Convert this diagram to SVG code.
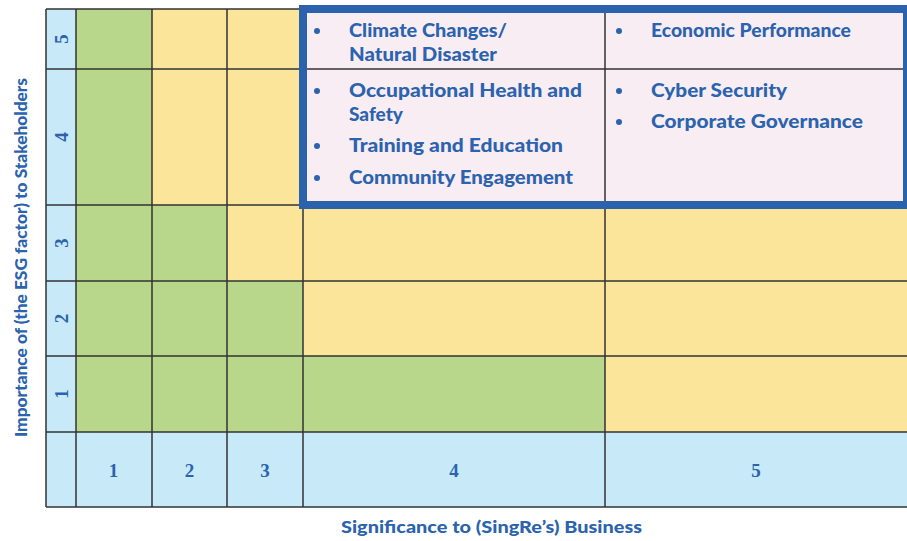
<svg xmlns="http://www.w3.org/2000/svg" width="907" height="541" viewBox="0 0 907 541">
  <style>
    .green { fill: #B9D78A; }
    .yellow { fill: #FAE59A; }
    .blue { fill: #C7E9F8; }
    .pink { fill: #F9EDF4; }
    .grid { stroke: #333333; stroke-width: 1.5; fill: none; }
    .item { font-family: "Lato", "Open Sans", "Liberation Sans", sans-serif; font-weight: 900; font-size: 19px; fill: #2B63AE; }
    .bullet { fill: #2B63AE; }
    .axis { font-family: "Lato", "Open Sans", "Liberation Sans", sans-serif; font-weight: 900; font-size: 17px; fill: #2B63AE; }
    .num { font-family: "Liberation Serif", serif; font-weight: bold; font-size: 19px; fill: #2B63AE; text-anchor: middle; }
    .frame { fill: none; stroke: #2A62AE; stroke-width: 8; }
  </style>

  <!-- cell fills -->
  <g id="cells">
    <rect class="blue" x="46" y="9" width="30" height="498"/>
    <rect class="blue" x="76" y="432" width="831" height="75"/>
    <rect class="green" x="76" y="9" width="76" height="423"/>
    <rect class="green" x="152" y="205" width="75" height="227"/>
    <rect class="green" x="227" y="281" width="76" height="151"/>
    <rect class="green" x="303" y="356" width="302" height="76"/>
    <rect class="yellow" x="152" y="9" width="151" height="196"/>
    <rect class="yellow" x="227" y="205" width="76" height="76"/>
    <rect class="yellow" x="303" y="205" width="604" height="151"/>
    <rect class="yellow" x="605" y="356" width="302" height="76"/>
    <rect class="pink" x="303" y="9" width="604" height="196"/>
  </g>

  <!-- grid lines -->
  <g id="gridlines" class="grid">
    <path d="M46 9V507 M76 9V507 M152 9V507 M227 9V507 M303 9V507 M605 9V507"/>
    <path d="M46 9H907 M46 69H907 M46 205H907 M46 281H907 M46 356H907 M46 432H907 M46 507H907"/>
  </g>

  <!-- highlighted material-topic frame -->
  <g id="material-frame">
    <rect class="frame" x="303" y="9" width="604" height="196"/>
  </g>

  <!-- material topics, top-right cells -->
  <g id="topics-4-5">
    <circle class="bullet" cx="317" cy="31" r="3"/>
    <text class="item" x="349" y="37" textLength="158" lengthAdjust="spacingAndGlyphs">Climate Changes/</text>
    <text class="item" x="349" y="61" textLength="148" lengthAdjust="spacingAndGlyphs">Natural Disaster</text>
  </g>
  <g id="topics-4-4">
    <circle class="bullet" cx="317" cy="91" r="3"/>
    <text class="item" x="349" y="97" textLength="233" lengthAdjust="spacingAndGlyphs">Occupational Health and</text>
    <text class="item" x="349" y="121" textLength="54" lengthAdjust="spacingAndGlyphs">Safety</text>
    <circle class="bullet" cx="317" cy="146" r="3"/>
    <text class="item" x="349" y="152" textLength="214" lengthAdjust="spacingAndGlyphs">Training and Education</text>
    <circle class="bullet" cx="317" cy="178" r="3"/>
    <text class="item" x="349" y="184" textLength="224" lengthAdjust="spacingAndGlyphs">Community Engagement</text>
  </g>
  <g id="topics-5-5">
    <circle class="bullet" cx="619" cy="31" r="3"/>
    <text class="item" x="651" y="37" textLength="200" lengthAdjust="spacingAndGlyphs">Economic Performance</text>
  </g>
  <g id="topics-5-4">
    <circle class="bullet" cx="619" cy="91" r="3"/>
    <text class="item" x="651" y="97" textLength="136" lengthAdjust="spacingAndGlyphs">Cyber Security</text>
    <circle class="bullet" cx="619" cy="122" r="3"/>
    <text class="item" x="651" y="128" textLength="212" lengthAdjust="spacingAndGlyphs">Corporate Governance</text>
  </g>

  <!-- x-axis scale -->
  <g id="x-scale">
    <text class="num" x="113.5" y="477">1</text>
    <text class="num" x="189.5" y="477">2</text>
    <text class="num" x="265" y="477">3</text>
    <text class="num" x="454" y="477">4</text>
    <text class="num" x="756" y="477">5</text>
  </g>

  <!-- y-axis scale -->
  <g id="y-scale">
    <text class="num" transform="translate(68 39) rotate(-90)">5</text>
    <text class="num" transform="translate(68 137) rotate(-90)">4</text>
    <text class="num" transform="translate(68 243) rotate(-90)">3</text>
    <text class="num" transform="translate(68 318.5) rotate(-90)">2</text>
    <text class="num" transform="translate(68 394) rotate(-90)">1</text>
  </g>

  <!-- axis titles -->
  <g id="x-title">
    <text class="axis" x="341" y="533" textLength="301" lengthAdjust="spacingAndGlyphs">Significance to (SingRe’s) Business</text>
  </g>
  <g id="y-title">
    <text class="axis" transform="translate(27 437) rotate(-90)" textLength="359" lengthAdjust="spacingAndGlyphs">Importance of (the ESG factor) to Stakeholders</text>
  </g>
</svg>
